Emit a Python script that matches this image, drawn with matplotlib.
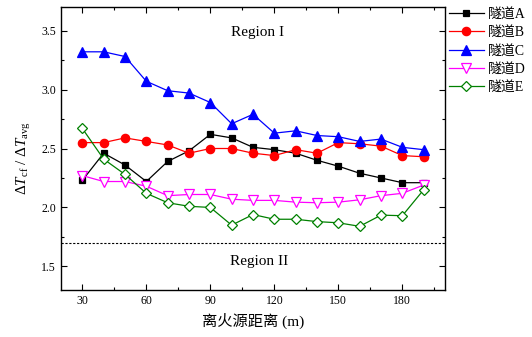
import matplotlib
matplotlib.use("Agg")
import matplotlib.pyplot as plt
from matplotlib.ticker import MultipleLocator

plt.rcParams['font.family'] = ['Liberation Serif', 'Noto Sans CJK SC']
plt.rcParams['mathtext.fontset'] = 'custom'
plt.rcParams['mathtext.rm'] = 'Liberation Serif'
plt.rcParams['mathtext.it'] = 'Liberation Serif:italic'

# distance from fire source (m)
distance = [30, 40, 50, 60, 70, 80, 90, 100, 110, 120, 130, 140, 150, 160, 170, 180, 190]

tunnel_a = [2.23, 2.46, 2.36, 2.22, 2.39, 2.48, 2.62, 2.59, 2.51, 2.49, 2.46, 2.40,
            2.35, 2.29, 2.25, 2.21, 2.21]
tunnel_b = [2.55, 2.55, 2.59, 2.56, 2.53, 2.46, 2.50, 2.50, 2.46, 2.44, 2.49, 2.46,
            2.55, 2.54, 2.52, 2.44, 2.43]
tunnel_c = [3.32, 3.32, 3.28, 3.07, 2.99, 2.97, 2.89, 2.71, 2.79, 2.63, 2.65, 2.61,
            2.60, 2.56, 2.58, 2.51, 2.49]
tunnel_d = [2.27, 2.22, 2.22, 2.18, 2.10, 2.11, 2.11, 2.07, 2.06, 2.06, 2.045, 2.04,
            2.045, 2.065, 2.10, 2.12, 2.19]
tunnel_e = [2.67, 2.41, 2.28, 2.12, 2.04, 2.01, 2.00, 1.85, 1.94, 1.90, 1.90, 1.88,
            1.87, 1.84, 1.935, 1.93, 2.15]

labels = ['隧道A', '隧道B', '隧道C', '隧道D', '隧道E']
threshold = 1.70

fig = plt.figure(figsize=(5.32, 3.37), dpi=100)
ax = fig.add_axes([61 / 532, 1 - 290 / 337, (445 - 61) / 532, (290 - 7) / 337])

styles = [
    dict(color='black', marker='s', markersize=5, markerfacecolor='black'),
    dict(color='red', marker='o', markersize=6, markerfacecolor='red'),
    dict(color='blue', marker='^', markersize=6.5, markerfacecolor='blue'),
    dict(color='magenta', marker='v', markersize=6.5, markerfacecolor='white'),
    dict(color='green', marker='D', markersize=5, markerfacecolor='white'),
]
series = [tunnel_a, tunnel_b, tunnel_c, tunnel_d, tunnel_e]
for vals, lab, st in zip(series, labels, styles):
    ax.plot(distance, vals, linewidth=0.9, label=lab, markeredgewidth=0.9, **st)

ax.axhline(threshold, color='black', linestyle=(0, (2, 1.5)), linewidth=0.8)

ax.text(112, 3.48, 'Region I', ha='center', va='center', fontsize=11)
ax.text(113, 1.54, 'Region II', ha='center', va='center', fontsize=11)

ax.set_xlim(20, 200)
ax.set_ylim(1.3, 3.7)
ax.set_xticks([30, 60, 90, 120, 150, 180])
ax.set_yticks([1.5, 2.0, 2.5, 3.0, 3.5])
ax.xaxis.set_minor_locator(MultipleLocator(15))
ax.yaxis.set_minor_locator(MultipleLocator(0.25))
ax.tick_params(which='both', direction='in', top=True, right=True, labelsize=8.5,
               width=0.8)
ax.tick_params(which='major', length=4)
ax.tick_params(which='minor', length=2)
for sp in ax.spines.values():
    sp.set_linewidth(1.0)

ax.set_xlabel('离火源距离 (m)', fontsize=11, labelpad=4)
ax.set_ylabel(r'$\mathit{\Delta T}_{\rm cf}\ /\ \mathit{\Delta T}_{\rm avg}$', fontsize=11)
ax.yaxis.set_label_coords(-0.072, 0.465)

fig.legend(loc='upper left', bbox_to_anchor=(449 / 532, 1 - 8 / 337), frameon=False,
           fontsize=10, handlelength=2.5, handletextpad=0.3, labelspacing=0.38,
           borderpad=0, borderaxespad=0)

fig.savefig('out.png', dpi=100)
